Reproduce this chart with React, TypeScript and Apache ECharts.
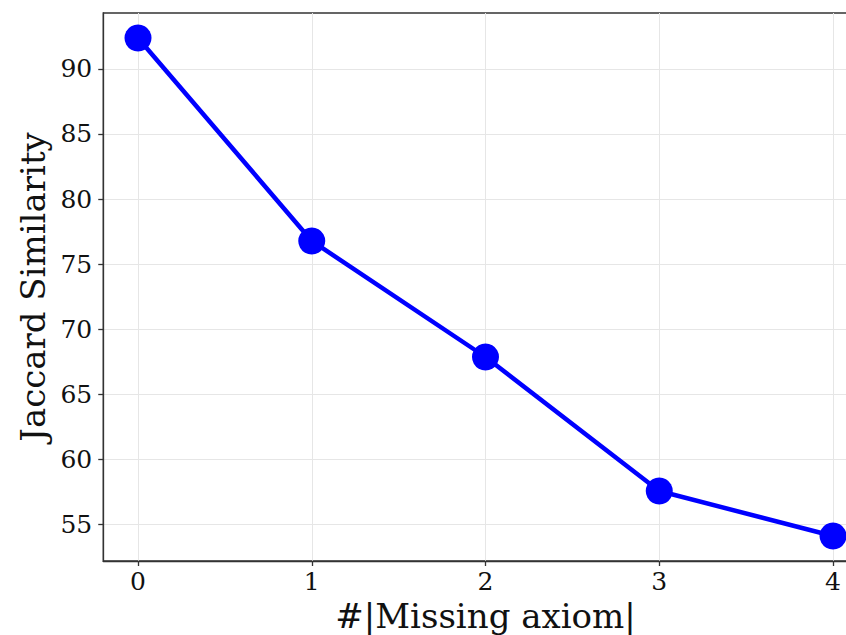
import React, { useEffect, useRef } from "react";
import * as echarts from "echarts";

const xValues = [0, 1, 2, 3, 4];
const jaccard = [92.38, 76.78, 67.86, 57.56, 54.1];
const xTicks = [0, 1, 2, 3, 4];
const yTicks = [55, 60, 65, 70, 75, 80, 85, 90];

const FONT = "DejaVu Serif";

export default function App() {
  const ref = useRef<HTMLDivElement>(null);
  useEffect(() => {
    if (!ref.current) return;
    const chart = echarts.init(ref.current, null, { renderer: "svg" });
    chart.setOption({
      animation: false,
      backgroundColor: "#ffffff",
      grid: {
        left: 103.25,
        top: 13,
        width: 764.5,
        height: 548,
        outerBoundsMode: "none",
        containLabel: false,
        show: true,
        borderColor: "#333333",
        borderWidth: 1.3,
        backgroundColor: "transparent",
      },
      xAxis: {
        type: "value",
        min: -0.2,
        max: 4.2,
        name: "#|Missing axiom|",
        nameLocation: "middle",
        nameGap: 34,
        nameTextStyle: { fontFamily: FONT, fontSize: 34, color: "#111" },
        axisLine: { show: true, onZero: false, lineStyle: { color: "#333333", width: 1.3 } },
        axisTick: { show: true, length: 5, inside: false, customValues: xTicks, lineStyle: { color: "#333333", width: 1.3 } },
        axisLabel: { customValues: xTicks, fontFamily: FONT, fontSize: 25, color: "#111", margin: 8 },
        splitLine: { show: true, lineStyle: { color: "#e6e6e6", width: 1 } },
      },
      yAxis: {
        type: "value",
        min: 52.18,
        max: 94.3,
        name: "Jaccard Similarity",
        nameLocation: "middle",
        nameGap: 52,
        nameTextStyle: { fontFamily: FONT, fontSize: 34, color: "#111" },
        axisLine: { show: true, onZero: false, lineStyle: { color: "#333333", width: 1.3 } },
        axisTick: { show: true, length: 5, inside: false, customValues: yTicks, lineStyle: { color: "#333333", width: 1.3 } },
        axisLabel: { customValues: yTicks, fontFamily: FONT, fontSize: 25, color: "#111", margin: 11 },
        splitLine: { show: true, lineStyle: { color: "#e6e6e6", width: 1 } },
      },
      series: [
        {
          type: "line",
          data: xValues.map((x, i) => [x, jaccard[i]]),
          symbol: "circle",
          symbolSize: 27,
          itemStyle: { color: "#0000ff" },
          lineStyle: { color: "#0000ff", width: 4.5 },
          clip: false,
        },
      ],
    });
    return () => chart.dispose();
  }, []);
  return (
    <div
      style={{
        position: "fixed",
        left: 0,
        top: 0,
        width: 846,
        height: 635,
        overflow: "hidden",
        background: "#fff",
      }}
    >
      <div ref={ref} style={{ width: 880, height: 635 }} />
    </div>
  );
}
